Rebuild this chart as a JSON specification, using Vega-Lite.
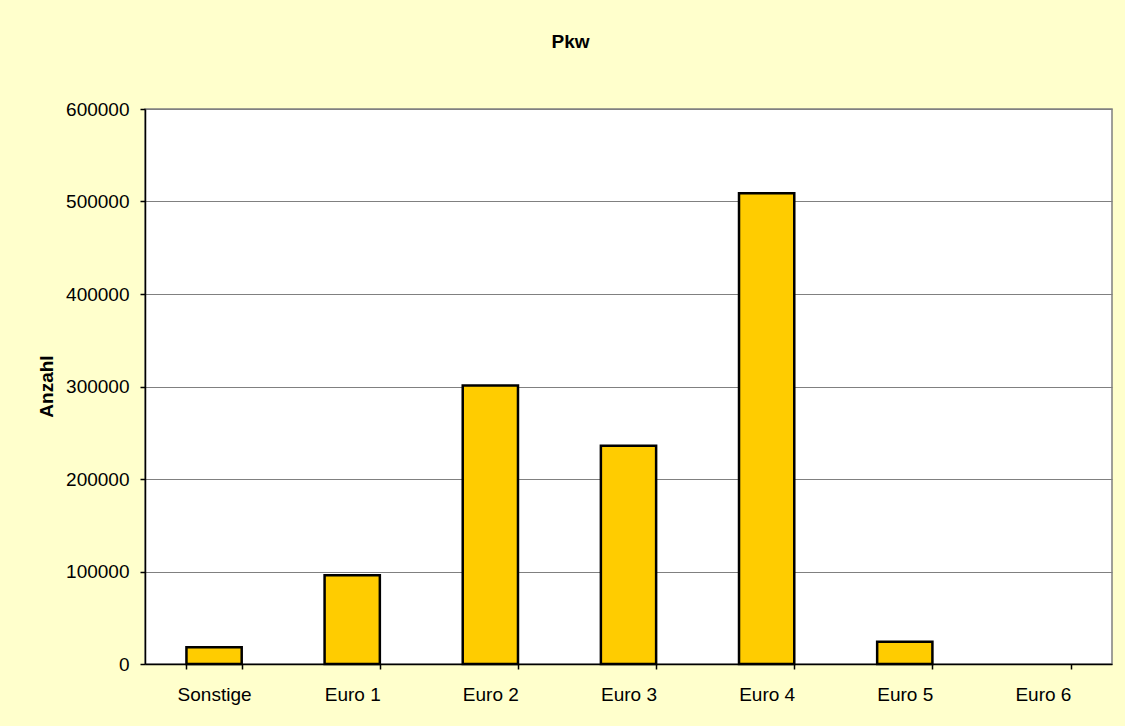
{
  "$schema": "https://vega.github.io/schema/vega-lite/v6.json",
  "width": 967,
  "height": 555,
  "autosize": {"type": "none"},
  "padding": {"left": 145, "top": 109, "right": 13, "bottom": 62},
  "background": "#FFFFCC",
  "title": {
    "text": "Pkw",
    "font": "Liberation Sans",
    "fontSize": 19,
    "fontWeight": "bold",
    "color": "#000000",
    "anchor": "middle",
    "baseline": "alphabetic",
    "dx": -58,
    "offset": 33
  },
  "config": {
    "view": {"fill": "#FFFFFF", "stroke": "#808080", "strokeWidth": 1.5},
    "font": "Liberation Sans"
  },
  "data": {
    "values": [
      {"kategorie": "Sonstige", "anzahl": 18000},
      {"kategorie": "Euro 1", "anzahl": 96000},
      {"kategorie": "Euro 2", "anzahl": 301000},
      {"kategorie": "Euro 3", "anzahl": 236000},
      {"kategorie": "Euro 4", "anzahl": 509000},
      {"kategorie": "Euro 5", "anzahl": 24000},
      {"kategorie": "Euro 6", "anzahl": 0}
    ]
  },
  "mark": {"type": "bar", "color": "#FFCC00", "stroke": "#000000"},
  "encoding": {
    "x": {
      "field": "kategorie",
      "type": "nominal",
      "sort": null,
      "scale": {"paddingInner": 0.6, "paddingOuter": 0.3},
      "axis": {
        "title": null,
        "labelAngle": 0,
        "labelFontSize": 19,
        "labelColor": "#000000",
        "labelBaseline": "alphabetic",
        "labelPadding": 31,
        "domainColor": "#000000",
        "domainWidth": 1.5,
        "tickColor": "#000000",
        "tickSize": 5,
        "tickWidth": 1.5,
        "tickBand": "extent",
        "grid": false
      }
    },
    "y": {
      "field": "anzahl",
      "type": "quantitative",
      "scale": {"domain": [0, 600000], "nice": false},
      "axis": {
        "title": "Anzahl",
        "titleFontSize": 19,
        "titleFontWeight": "bold",
        "titleColor": "#000000",
        "titleX": -93,
        "titleY": 277,
        "titleAngle": -90,
        "titleAlign": "center",
        "titleBaseline": "alphabetic",
        "values": [0, 100000, 200000, 300000, 400000, 500000, 600000],
        "format": "d",
        "labelFontSize": 19,
        "labelColor": "#000000",
        "labelPadding": 11,
        "domainColor": "#000000",
        "domainWidth": 1.5,
        "tickColor": "#000000",
        "tickSize": 5,
        "tickWidth": 1.5,
        "grid": true,
        "gridColor": "#808080",
        "gridWidth": 1
      }
    },
    "strokeWidth": {
      "condition": {"test": "datum.anzahl > 0", "value": 2.5},
      "value": 0
    }
  }
}
